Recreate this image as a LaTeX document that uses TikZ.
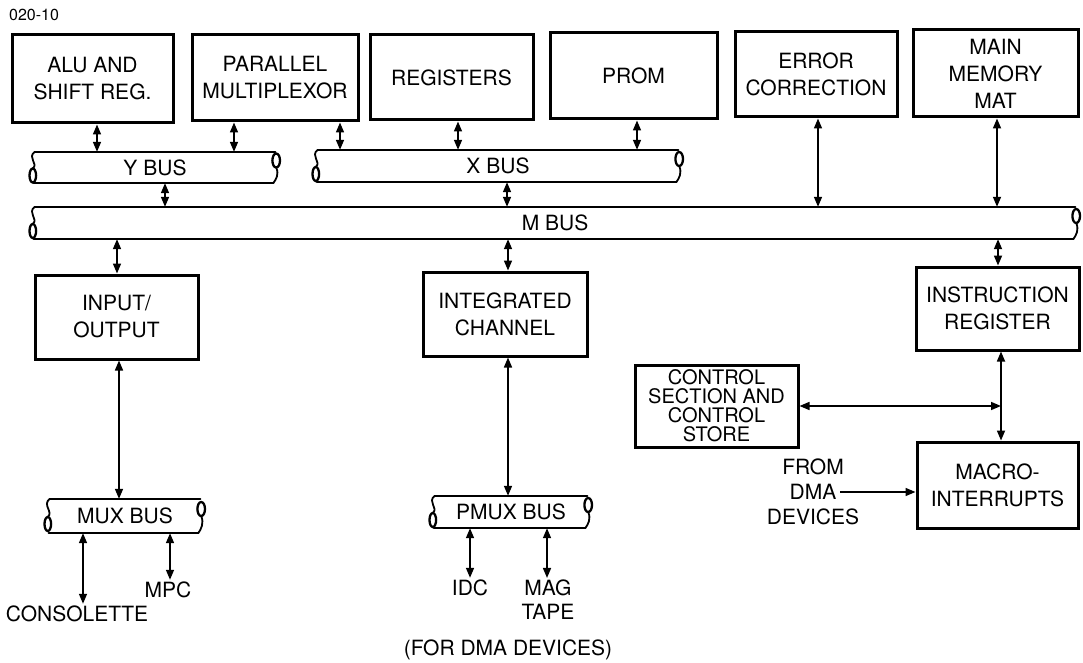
\documentclass[tikz,border=0pt]{standalone}
\usepackage{fontspec}
\setmainfont{TeX Gyre Heros}
\usetikzlibrary{calc,arrows.meta}

\newcommand{\diagfont}{\fontsize{21}{27}\selectfont}
\newcommand{\tightfont}{\fontsize{20}{19}\selectfont}

\tikzset{
  blockbox/.style={draw, rectangle, line width=3pt, align=center, inner sep=0pt, font=\diagfont},
  busnode/.style={rectangle, draw=none, inner sep=0pt, font=\diagfont},
  busline/.style={line width=2.5pt, line cap=round},
  busend/.style={line width=1.8pt, line cap=round},
  busoval/.style={line width=2.3pt},
  link/.style={line width=1.6pt, {Triangle[length=10pt,width=8pt]}-{Triangle[length=10pt,width=8pt]}},
  onelink/.style={line width=1.6pt, -{Triangle[length=10pt,width=8pt]}},
  plaintext/.style={inner sep=2pt, align=center, font=\diagfont},
}

% outline of a bus drawn round a bus node: cut end on the left, open end on the right
\newcommand{\busends}[1]{%
  \draw[busline] ($(#1.north west)+(5,0)$) -- ($(#1.north east)+(-5,0)$);
  \draw[busline] ($(#1.south west)+(4,0)$) -- ($(#1.south east)+(-7,0)$);
  \draw[busend] ($(#1.north west)+(5,0)$) .. controls ($(#1.north west)+(-3,6)$) and ($(#1.west)+(9,-4)$) .. ($(#1.west)+(3,1)$);
  \draw[busoval] ($(#1.west)+(3,8)$) ellipse [x radius=3.3pt, y radius=7pt];
  \draw[busoval] ($(#1.east)+(-4,-7)$) ellipse [x radius=3.8pt, y radius=7pt];
  \draw[busend] ($(#1.east)+(-4,0)$) .. controls ($(#1.east)+(-1,7)$) and ($(#1.south east)+(-4,-4)$) .. ($(#1.south east)+(-7,0)$);
}

\begin{document}
\begin{tikzpicture}[x=1pt, y=-1pt]
\useasboundingbox (0,0) rectangle (1083,663);

\node[anchor=west, inner sep=0pt, font=\fontsize{16}{19}\selectfont] (figno) at (9,15) {020-10};

% top row of units
\node[blockbox, minimum width=161pt, minimum height=88pt] (alu) at (92.5,79) {ALU AND\\SHIFT REG.};
\node[blockbox, minimum width=166pt, minimum height=86pt] (pmx) at (275,78) {PARALLEL\\MULTIPLEXOR};
\node[blockbox, minimum width=163pt, minimum height=85pt] (regs) at (451.5,77.5) {REGISTERS};
\node[blockbox, minimum width=167pt, minimum height=86pt] (prom) at (633.5,76) {PROM};
\node[blockbox, minimum width=162pt, minimum height=85pt] (ecc) at (816,74.5) {ERROR\\CORRECTION};
\node[blockbox, minimum width=165pt, minimum height=87pt] (mem) at (995.5,73.5) {MAIN\\MEMORY\\MAT};

% buses
\node[busnode, minimum width=250pt, minimum height=31pt] (ybus) at (155,167.5) {Y BUS};
\node[busnode, minimum width=370pt, minimum height=32pt] (xbus) at (498,166) {X BUS};
\node[busnode, minimum width=1050pt, minimum height=32pt] (mbus) at (555,223) {M BUS};
\node[busnode, minimum width=160pt, minimum height=34pt] (muxbus) at (125,516) {MUX BUS};
\node[busnode, minimum width=162pt, minimum height=32pt] (pmuxbus) at (511,512) {PMUX BUS};
\busends{ybus}
\busends{xbus}
\busends{mbus}
\busends{muxbus}
\busends{pmuxbus}

% middle and lower units
\node[blockbox, minimum width=163pt, minimum height=84pt] (io) at (116.5,317) {INPUT/\\OUTPUT};
\node[blockbox, minimum width=164pt, minimum height=84pt] (ic) at (505,314) {INTEGRATED\\CHANNEL};
\node[blockbox, minimum width=163pt, minimum height=83pt] (ir) at (997.5,308.5) {INSTRUCTION\\REGISTER};
\node[blockbox, minimum width=163pt, minimum height=82pt, font=\tightfont] (ctl) at (716.5,406) {CONTROL\\SECTION AND\\CONTROL\\STORE};
\node[blockbox, minimum width=161pt, minimum height=86pt] (macro) at (997.5,485) {MACRO-\\INTERRUPTS};

% free labels
\node[plaintext, font=\fontsize{21}{25}\selectfont] (dma) at (813,492) {FROM\\DMA\\DEVICES};
\node[plaintext] (cons) at (77,614) {CONSOLETTE};
\node[plaintext] (mpc) at (168,590) {MPC};
\node[plaintext] (idc) at (470,588) {IDC};
\node[plaintext, font=\fontsize{21}{24}\selectfont] (mag) at (548,600) {MAG\\TAPE};
\node[plaintext] (note) at (508,650) {(FOR DMA DEVICES)};

% connections to the Y and X buses
\draw[link] (97,0 |- alu.south) -- (97,0 |- ybus.north);
\draw[link] (234,0 |- pmx.south) -- (234,0 |- ybus.north);
\draw[link] (340,0 |- pmx.south) -- (340,0 |- xbus.north);
\draw[link] (458,0 |- regs.south) -- (458,0 |- xbus.north);
\draw[link] (637,0 |- prom.south) -- (637,0 |- xbus.north);

% connections to the M bus
\draw[link] (165,0 |- ybus.south) -- (165,0 |- mbus.north);
\draw[link] (507,0 |- xbus.south) -- (507,0 |- mbus.north);
\draw[link] (818,0 |- ecc.south) -- (818,0 |- mbus.north);
\draw[link] (997,0 |- mem.south) -- (997,0 |- mbus.north);
\draw[link] (117,0 |- mbus.south) -- (117,0 |- io.north);
\draw[link] (508,0 |- mbus.south) -- (508,0 |- ic.north);
\draw[link] (998,0 |- mbus.south) -- (998,0 |- ir.north);

% channel buses
\draw[link] (119,0 |- io.south) -- (119,0 |- muxbus.north);
\draw[link] (508,0 |- ic.south) -- (508,0 |- pmuxbus.north);
\draw[link] (83,0 |- muxbus.south) -- (83,0 |- cons.north);
\draw[link] (170,0 |- muxbus.south) -- (170,0 |- mpc.north);
\draw[link] (470,0 |- pmuxbus.south) -- (470,0 |- idc.north);
\draw[link] (547,0 |- pmuxbus.south) -- (547,0 |- mag.north);

% control path
\draw[link] (1001,0 |- ir.south) -- (1001,0 |- macro.north);
\draw[link] (ctl.east) -- (1001,0 |- ctl.east);
\draw[onelink] ($(dma.center)+(27,0)$) -- (macro.west |- dma.center);
\end{tikzpicture}
\end{document}
